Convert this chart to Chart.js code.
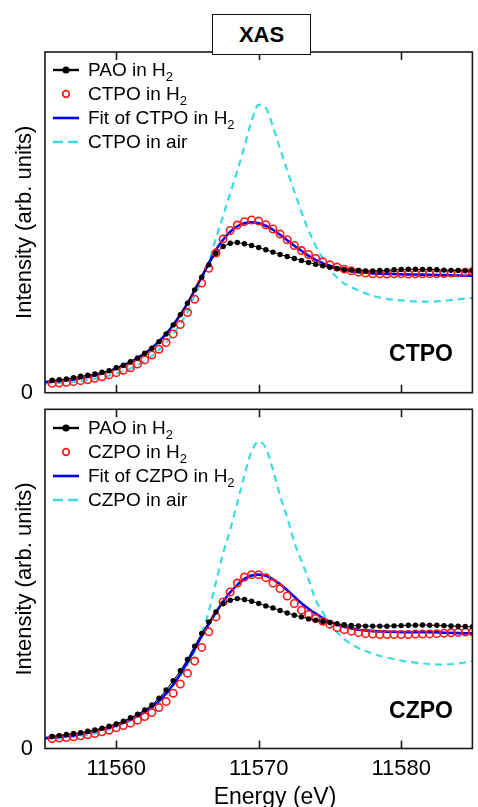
<!DOCTYPE html>
<html>
<head>
<meta charset="utf-8">
<script src="https://cdn.jsdelivr.net/npm/chart.js@4.4.0/dist/chart.umd.min.js"></script>
<style>
  html, body { margin: 0; padding: 0; background: #fff; }
  #page { position: relative; width: 478px; height: 807px; overflow: hidden; font-family: 'Liberation Sans', Arial, sans-serif; color: #000; }
  canvas { position: absolute; left: 0; }
  .title { position: absolute; left: 212px; top: 14px; width: 97px; height: 39px; border: 1.5px solid #111; background: #fff;
           font-weight: bold; font-size: 22px; line-height: 39px; text-align: center; z-index: 2; }
  .legend { position: absolute; left: 53px; font-size: 19px; z-index: 2; }
  .legend .row { height: 24px; display: flex; align-items: center; white-space: nowrap; }
  .legend svg { width: 26px; height: 14px; margin-right: 9px; flex: none; }
  .legend sub { font-size: 13px; vertical-align: -5px; line-height: 0; }
  .tag { position: absolute; width: 80px; text-align: center; font-weight: bold; font-size: 23px; line-height: 28px; z-index: 2; }
  .xtitle { position: absolute; left: 195px; width: 160px; top: 783px; text-align: center; font-size: 23px; line-height: 26px; }
</style>
</head>
<body>
<div id="page">
  <canvas id="top" width="478" height="400" style="top:0"></canvas>
  <canvas id="bottom" width="478" height="407" style="top:400px"></canvas>

  <div class="title">XAS</div>

  <div class="legend" style="top:58px">
    <div class="row"><svg viewBox="0 0 26 14"><line x1="0" y1="7" x2="26" y2="7" stroke="#000" stroke-width="2.4"/><circle cx="13" cy="7" r="3.6" fill="#000"/></svg><span>PAO in H<sub>2</sub></span></div>
    <div class="row"><svg viewBox="0 0 26 14"><circle cx="13" cy="7" r="3.3" fill="none" stroke="#ff1a1a" stroke-width="1.7"/></svg><span>CTPO in H<sub>2</sub></span></div>
    <div class="row"><svg viewBox="0 0 26 14"><line x1="0" y1="7" x2="26" y2="7" stroke="#0000ff" stroke-width="2.6"/></svg><span>Fit of CTPO in H<sub>2</sub></span></div>
    <div class="row"><svg viewBox="0 0 26 14"><line x1="0" y1="7" x2="26" y2="7" stroke="#3bdbe3" stroke-width="2.4" stroke-dasharray="10 5"/></svg><span>CTPO in air</span></div>
  </div>

  <div class="legend" style="top:416px">
    <div class="row"><svg viewBox="0 0 26 14"><line x1="0" y1="7" x2="26" y2="7" stroke="#000" stroke-width="2.4"/><circle cx="13" cy="7" r="3.6" fill="#000"/></svg><span>PAO in H<sub>2</sub></span></div>
    <div class="row"><svg viewBox="0 0 26 14"><circle cx="13" cy="7" r="3.3" fill="none" stroke="#ff1a1a" stroke-width="1.7"/></svg><span>CZPO in H<sub>2</sub></span></div>
    <div class="row"><svg viewBox="0 0 26 14"><line x1="0" y1="7" x2="26" y2="7" stroke="#0000ff" stroke-width="2.6"/></svg><span>Fit of CZPO in H<sub>2</sub></span></div>
    <div class="row"><svg viewBox="0 0 26 14"><line x1="0" y1="7" x2="26" y2="7" stroke="#3bdbe3" stroke-width="2.4" stroke-dasharray="10 5"/></svg><span>CZPO in air</span></div>
  </div>

  <div class="tag" style="left:381px; top:339px">CTPO</div>
  <div class="tag" style="left:381px; top:696px">CZPO</div>
  <div class="xtitle">Energy (eV)</div>
</div>

<script>
// energy grid of the measured points (eV)
const energy = [
  11555.5, 11556, 11556.5, 11557, 11557.5, 11558, 11558.5, 11559, 11559.5, 11560,
  11560.5, 11561, 11561.5, 11562, 11562.5, 11563, 11563.5, 11564, 11564.5, 11565,
  11565.5, 11566, 11566.5, 11567, 11567.5, 11568, 11568.5, 11569, 11569.5, 11570,
  11570.5, 11571, 11571.5, 11572, 11572.5, 11573, 11573.5, 11574, 11574.5, 11575,
  11575.5, 11576, 11576.5, 11577, 11577.5, 11578, 11578.5, 11579, 11579.5, 11580,
  11580.5, 11581, 11581.5, 11582, 11582.5, 11583, 11583.5, 11584, 11584.5, 11585
];

// energy grid of the fitted curves
const fitEnergy = [
  11555, 11555.5, 11556, 11556.5, 11557, 11557.5, 11558, 11558.5, 11559, 11559.5,
  11560, 11560.5, 11561, 11561.5, 11562, 11562.5, 11563, 11563.5, 11564, 11564.5,
  11565, 11565.5, 11566, 11566.5, 11567, 11567.5, 11568, 11568.5, 11569, 11569.5,
  11570, 11570.5, 11571, 11571.5, 11572, 11572.5, 11573, 11573.5, 11574, 11574.5,
  11575, 11575.5, 11576, 11576.5, 11577, 11577.5, 11578, 11579, 11580, 11581,
  11582, 11583, 11584, 11585
];

// energy grid of the "in air" spectra
const airEnergy = [
  11555, 11556, 11557, 11558, 11559, 11560, 11561, 11562, 11563, 11564,
  11564.5, 11565, 11565.5, 11566, 11566.5, 11567, 11567.5, 11568, 11568.5, 11569,
  11569.5, 11570, 11570.5, 11571, 11571.5, 11572, 11572.5, 11573, 11573.5, 11574,
  11574.5, 11575, 11575.5, 11576, 11576.5, 11577, 11578, 11579, 11580, 11581,
  11582, 11583, 11584, 11585
];

const xTicks = [11560, 11570, 11580];

// top panel (CTPO)
const paoTop = [
  0.103, 0.108, 0.114, 0.125, 0.137, 0.145, 0.156, 0.170, 0.183, 0.208,
  0.228, 0.258, 0.289, 0.328, 0.370, 0.425, 0.489, 0.564, 0.650, 0.745,
  0.856, 0.962, 1.064, 1.160, 1.217, 1.243, 1.250, 1.239, 1.225, 1.208,
  1.189, 1.170, 1.150, 1.133, 1.117, 1.100, 1.083, 1.068, 1.056, 1.043,
  1.033, 1.025, 1.020, 1.017, 1.014, 1.014, 1.017, 1.018, 1.023, 1.025,
  1.027, 1.027, 1.025, 1.027, 1.023, 1.020, 1.018, 1.017, 1.014, 1.013
];
const ctpoH2 = [
  0.078, 0.081, 0.087, 0.092, 0.100, 0.108, 0.120, 0.133, 0.148, 0.167,
  0.187, 0.208, 0.239, 0.273, 0.314, 0.362, 0.417, 0.489, 0.567, 0.667,
  0.778, 0.912, 1.035, 1.162, 1.278, 1.350, 1.395, 1.423, 1.437, 1.428,
  1.398, 1.362, 1.320, 1.273, 1.225, 1.183, 1.150, 1.117, 1.089, 1.064,
  1.045, 1.028, 1.014, 1.003, 0.995, 0.990, 0.989, 0.988, 0.989, 0.989,
  0.988, 0.989, 0.990, 0.989, 0.990, 0.992, 0.995, 0.998, 1.003, 1.008
];
const ctpoFit = [
  0.089, 0.093, 0.098, 0.103, 0.110, 0.120, 0.131, 0.143, 0.160, 0.179,
  0.202, 0.227, 0.256, 0.289, 0.327, 0.373, 0.427, 0.489, 0.564, 0.648,
  0.743, 0.852, 0.964, 1.081, 1.189, 1.273, 1.339, 1.385, 1.410, 1.417,
  1.410, 1.389, 1.356, 1.314, 1.268, 1.223, 1.181, 1.139, 1.106, 1.078,
  1.056, 1.038, 1.023, 1.012, 1.002, 0.998, 0.993, 0.989, 0.985, 0.983,
  0.981, 0.978, 0.975, 0.973
];
const ctpoAir = [
  0.077, 0.081, 0.089, 0.106, 0.127, 0.160, 0.202, 0.264, 0.356, 0.489,
  0.573, 0.673, 0.806, 0.931, 1.085, 1.285, 1.470, 1.660, 1.845, 2.050,
  2.262, 2.395, 2.370, 2.215, 2.030, 1.850, 1.675, 1.505, 1.350, 1.223,
  1.114, 1.025, 0.958, 0.910, 0.878, 0.852, 0.806, 0.781, 0.768, 0.760,
  0.758, 0.764, 0.777, 0.789
];

// bottom panel (CZPO)
const paoBottom = [
  0.100, 0.108, 0.118, 0.125, 0.133, 0.145, 0.156, 0.170, 0.187, 0.206,
  0.228, 0.258, 0.287, 0.323, 0.364, 0.420, 0.489, 0.567, 0.650, 0.745,
  0.856, 0.962, 1.058, 1.142, 1.212, 1.239, 1.253, 1.245, 1.231, 1.212,
  1.192, 1.175, 1.153, 1.133, 1.114, 1.100, 1.083, 1.073, 1.062, 1.053,
  1.043, 1.035, 1.028, 1.025, 1.023, 1.023, 1.023, 1.022, 1.025, 1.027,
  1.030, 1.031, 1.032, 1.031, 1.030, 1.027, 1.024, 1.022, 1.020, 1.017
];
const czpoH2 = [
  0.083, 0.087, 0.092, 0.098, 0.106, 0.114, 0.125, 0.139, 0.153, 0.173,
  0.192, 0.212, 0.237, 0.267, 0.300, 0.342, 0.392, 0.462, 0.539, 0.628,
  0.731, 0.845, 0.975, 1.100, 1.225, 1.308, 1.383, 1.433, 1.453, 1.453,
  1.428, 1.383, 1.337, 1.275, 1.212, 1.156, 1.120, 1.087, 1.064, 1.039,
  1.010, 0.993, 0.981, 0.968, 0.960, 0.956, 0.952, 0.952, 0.953, 0.952,
  0.953, 0.956, 0.956, 0.958, 0.960, 0.964, 0.967, 0.970, 0.973, 0.975
];
const czpoFit = [
  0.087, 0.092, 0.098, 0.103, 0.110, 0.120, 0.131, 0.143, 0.160, 0.175,
  0.193, 0.217, 0.243, 0.273, 0.306, 0.348, 0.398, 0.460, 0.535, 0.623,
  0.723, 0.831, 0.939, 1.039, 1.139, 1.227, 1.306, 1.368, 1.418, 1.445,
  1.453, 1.443, 1.414, 1.373, 1.323, 1.268, 1.214, 1.168, 1.127, 1.089,
  1.060, 1.037, 1.018, 1.004, 0.993, 0.987, 0.981, 0.977, 0.973, 0.973,
  0.973, 0.968, 0.964, 0.962
];
const czpoAir = [
  0.081, 0.085, 0.098, 0.114, 0.143, 0.181, 0.231, 0.298, 0.389, 0.523,
  0.606, 0.698, 0.814, 0.964, 1.148, 1.389, 1.631, 1.830, 2.056, 2.283,
  2.483, 2.567, 2.512, 2.331, 2.114, 1.931, 1.725, 1.567, 1.414, 1.239,
  1.139, 1.039, 0.973, 0.914, 0.873, 0.839, 0.793, 0.760, 0.735, 0.718,
  0.706, 0.702, 0.710, 0.731
];

Chart.defaults.font.family = "'Liberation Sans', Arial, sans-serif";
Chart.defaults.color = '#000';

const pts = (xs, ys) => xs.map((x, i) => ({ x: x, y: ys[i] }));

// box round the plot area plus inward tick marks top and bottom
const framePlugin = {
  id: 'frame',
  afterDatasetsDraw(chart) {
    const { ctx, chartArea: a } = chart;
    const x = chart.scales.x;
    ctx.save();
    ctx.strokeStyle = '#1a1a1a';
    ctx.lineWidth = 1.6;
    ctx.strokeRect(a.left, a.top, a.right - a.left, a.bottom - a.top);
    ctx.beginPath();
    xTicks.forEach(v => {
      const px = Math.round(x.getPixelForValue(v)) + 0.5;
      ctx.moveTo(px, a.bottom);
      ctx.lineTo(px, a.bottom - 8);
      ctx.moveTo(px, a.top);
      ctx.lineTo(px, a.top + 8);
    });
    ctx.stroke();
    ctx.restore();
  }
};

// keep tick labels from pushing the plot area in
const noOverflow = s => {
  s.paddingTop = 0; s.paddingBottom = 0; s.paddingLeft = 0; s.paddingRight = 0;
};

function makePanel(id, pao, h2, fit, air, showX, padding) {
  return new Chart(document.getElementById(id), {
    type: 'line',
    data: {
      datasets: [
        {
          label: 'PAO in H2', data: pts(energy, pao),
          borderColor: '#000', borderWidth: 1,
          pointRadius: 2.7, pointBackgroundColor: '#000', pointBorderWidth: 0
        },
        {
          label: 'in H2', data: pts(energy, h2), showLine: false,
          pointRadius: 3.7, pointBorderWidth: 1.6,
          pointBorderColor: '#ff1a1a', pointBackgroundColor: 'rgba(0,0,0,0)'
        },
        {
          label: 'Fit', data: pts(fitEnergy, fit),
          borderColor: '#0000ff', borderWidth: 2.6, pointRadius: 0,
          cubicInterpolationMode: 'monotone'
        },
        {
          label: 'in air', data: pts(airEnergy, air),
          borderColor: '#3bdbe3', borderWidth: 2.2, borderDash: [7, 5], pointRadius: 0,
          cubicInterpolationMode: 'monotone'
        }
      ]
    },
    options: {
      responsive: false,
      animation: false,
      events: [],
      layout: { padding: padding },
      plugins: { legend: { display: false }, tooltip: { enabled: false } },
      scales: {
        x: {
          type: 'linear', min: 11555, max: 11585,
          display: showX,
          afterBuildTicks: s => { s.ticks = xTicks.map(v => ({ value: v })); },
          afterFit: s => { noOverflow(s); if (showX) s.height = 58.5; },
          grid: { display: false, drawTicks: false, tickLength: 0 },
          border: { display: false },
          ticks: { padding: 7, font: { size: 22 }, callback: v => String(v) }
        },
        y: {
          min: 0, max: 2.835,
          afterBuildTicks: s => { s.ticks = [{ value: 0 }]; },
          afterFit: s => { noOverflow(s); s.width = 45; },
          grid: { display: false, drawTicks: false, tickLength: 0 },
          border: { display: false },
          ticks: { padding: 12, font: { size: 22 }, callback: () => '0' },
          title: {
            display: true, text: 'Intensity (arb. units)',
            font: { size: 22 }, padding: { top: 12, bottom: 0 }
          }
        }
      }
    },
    plugins: [framePlugin]
  });
}

makePanel('top', paoTop, ctpoH2, ctpoFit, ctpoAir, false, { top: 52, right: 2, bottom: 7.3, left: 0 });
makePanel('bottom', paoBottom, czpoH2, czpoFit, czpoAir, true, { top: 9.3, right: 2, bottom: 0, left: 0 });
</script>
</body>
</html>
